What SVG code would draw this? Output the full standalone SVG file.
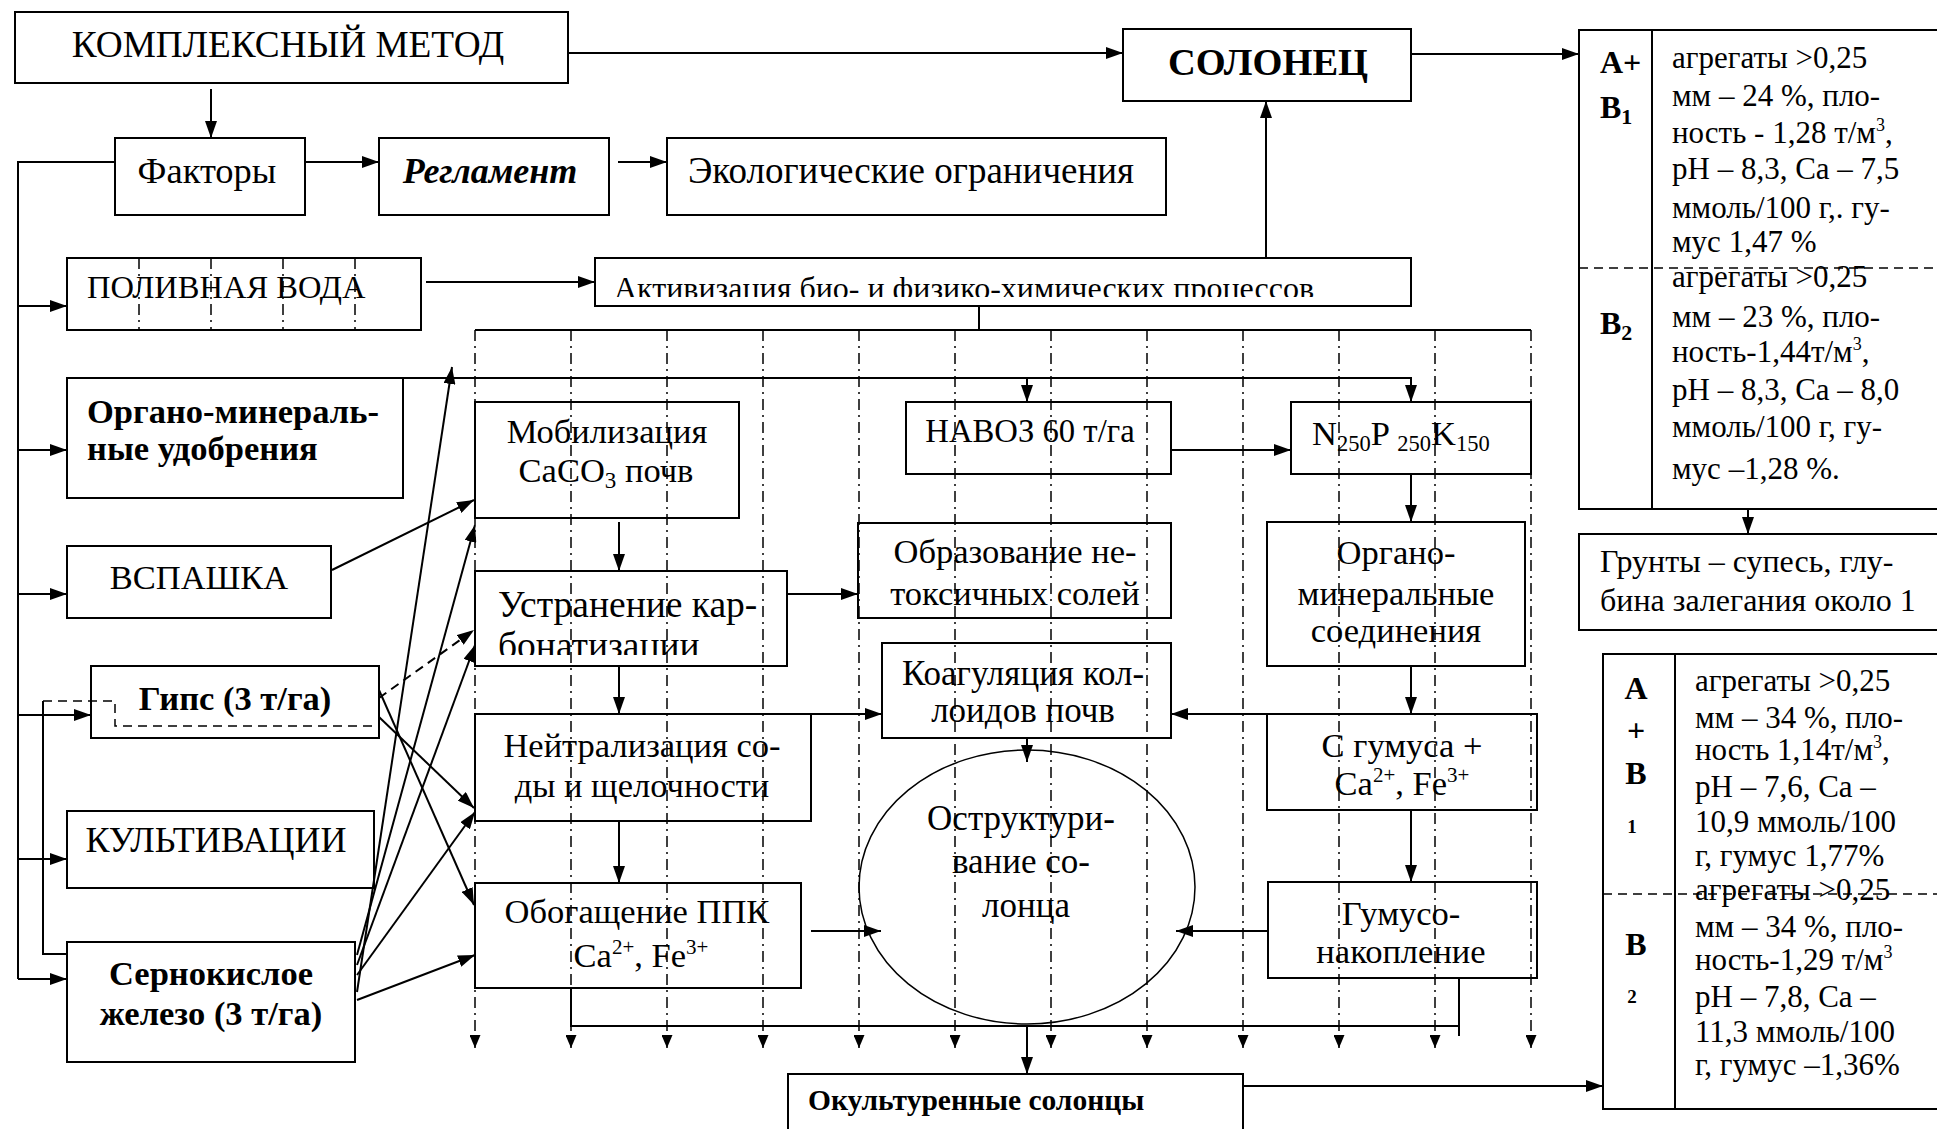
<svg xmlns="http://www.w3.org/2000/svg" width="1937" height="1129" viewBox="0 0 1937 1129">
<defs>
<style>
.b{fill:#fff;stroke:#000;stroke-width:2}
.l{fill:none;stroke:#000;stroke-width:2}
.la{fill:none;stroke:#000;stroke-width:2;marker-end:url(#a)}
.dla{fill:none;stroke:#000;stroke-width:2;stroke-dasharray:9 6;marker-end:url(#a)}
.dd{fill:none;stroke:#000;stroke-width:1.5;stroke-dasharray:11 5 2 5}
.dda{fill:none;stroke:#000;stroke-width:1.5;stroke-dasharray:11 5 2 5;marker-end:url(#s)}
.ds{fill:none;stroke:#000;stroke-width:1.5;stroke-dasharray:9 6}
text{font-family:"Liberation Serif","Times New Roman",serif;fill:#000;font-size:34.5px}
.m{text-anchor:middle}
.bd{font-weight:bold}
.big{font-size:37px}
.tb{font-size:31px}
.t32{font-size:32px}
.sm{font-size:19px}
</style>
<marker id="a" markerUnits="userSpaceOnUse" markerWidth="17" markerHeight="12" refX="17" refY="6" orient="auto"><path d="M0,0 L17,6 L0,12 z" fill="#000"/></marker>
<marker id="s" markerUnits="userSpaceOnUse" markerWidth="13" markerHeight="11" refX="13" refY="5.5" orient="auto"><path d="M0,0 L13,5.5 L0,11 z" fill="#000"/></marker>
<clipPath id="c1"><rect x="595" y="258" width="816" height="39"/></clipPath>
<clipPath id="c2"><rect x="475" y="571" width="312" height="84"/></clipPath>
</defs>
<rect width="1937" height="1129" fill="#fff"/>

<g id="n-kompl"><rect class="b" x="15" y="12" width="553" height="71"/><text class="m" x="288" y="57" style="font-size:37.3px">КОМПЛЕКСНЫЙ МЕТОД</text></g>
<g id="n-solonets"><rect class="b" x="1123" y="29" width="288" height="72"/><text class="m bd" x="1268" y="75" style="font-size:38.5px">СОЛОНЕЦ</text></g>
<g id="n-faktory"><rect class="b" x="115" y="138" width="190" height="77"/><text class="m" x="207" y="183" style="font-size:36.5px">Факторы</text></g>
<g id="n-reglament"><rect class="b" x="379" y="138" width="230" height="77"/><text class="m bd" x="490" y="183" style="font-size:36px;font-style:italic">Регламент</text></g>
<g id="n-ecolog"><rect class="b" x="667" y="138" width="499" height="77"/><text class="big m" x="911" y="183">Экологические ограничения</text></g>
<g id="n-poliv"><rect class="b" x="67" y="258" width="354" height="72"/><text x="87" y="298" style="font-size:32.5px">ПОЛИВНАЯ ВОДА</text></g>
<g id="n-aktiv"><rect class="b" x="595" y="258" width="816" height="48"/><text class="t32" x="614" y="299" clip-path="url(#c1)">Активизация био- и физико-химических процессов</text></g>
<g id="n-organo"><rect class="b" x="67" y="378" width="336" height="120"/><text class="bd" x="87" y="423">Органо-минераль-</text><text class="bd" x="87" y="460">ные удобрения</text></g>
<g id="n-vspashka"><rect class="b" x="67" y="546" width="264" height="72"/><text class="m" x="199" y="589">ВСПАШКА</text></g>
<g id="n-gips"><rect class="b" x="91" y="666" width="288" height="72"/><text class="m bd" x="235" y="710">Гипс (3 т/га)</text></g>
<g id="n-kultiv"><rect class="b" x="67" y="811" width="307" height="77"/><text class="m" x="216" y="852" style="font-size:36px">КУЛЬТИВАЦИИ</text></g>
<g id="n-sern"><rect class="b" x="67" y="942" width="288" height="120"/><text class="m bd" x="211" y="985">Сернокислое</text><text class="m bd" x="211" y="1025">железо (3 т/га)</text></g>

<g id="n-mobil"><rect class="b" x="475" y="402" width="264" height="116"/><text class="m" x="607" y="443">Мобилизация</text><text class="m" x="606" y="482">CaCO<tspan style="font-size:23px" dy="6">3</tspan><tspan dy="-6"> почв</tspan></text></g>
<g id="n-ustran"><rect class="b" x="475" y="571" width="312" height="95"/><text x="498" y="617" style="font-size:37.5px">Устранение кар-</text><text x="498" y="658" style="font-size:37.5px" clip-path="url(#c2)">бонатизации</text></g>
<g id="n-neitr"><rect class="b" x="475" y="714" width="336" height="107"/><text class="m" x="642" y="757">Нейтрализация со-</text><text class="m" x="642" y="797">ды и щелочности</text></g>
<g id="n-obog"><rect class="b" x="475" y="883" width="326" height="105"/><text class="m" x="637" y="923">Обогащение ППК</text><text class="m" x="641" y="967">Ca<tspan style="font-size:21px" dy="-13">2+</tspan><tspan dy="13">, Fe</tspan><tspan style="font-size:21px" dy="-13">3+</tspan></text></g>
<g id="n-navoz"><rect class="b" x="906" y="402" width="265" height="72"/><text class="m" x="1030" y="442" style="font-size:32.7px">НАВОЗ 60 т/га</text></g>
<g id="n-npk"><rect class="b" x="1291" y="402" width="240" height="72"/><text x="1312" y="445">N<tspan style="font-size:22.5px" dy="6">250</tspan><tspan dy="-6">P </tspan><tspan style="font-size:22.5px" dy="6">250</tspan><tspan dy="-6">K</tspan><tspan style="font-size:22.5px" dy="6">150</tspan></text></g>
<g id="n-obraz"><rect class="b" x="858" y="523" width="313" height="95"/><text class="m" x="1015" y="563">Образование не-</text><text class="m" x="1015" y="605">токсичных солей</text></g>
<g id="n-koag"><rect class="b" x="882" y="643" width="289" height="95"/><text class="m" x="1023" y="685" style="font-size:35px">Коагуляция кол-</text><text class="m" x="1023" y="722" style="font-size:35px">лоидов почв</text></g>
<g id="n-ostr"><ellipse cx="1027" cy="887" rx="168" ry="137" fill="#fff" stroke="#000" stroke-width="1.5"/><text class="m" x="1021" y="830" style="font-size:35px">Оструктури-</text><text class="m" x="1021" y="873" style="font-size:35px">вание со-</text><text class="m" x="1026" y="917" style="font-size:35px">лонца</text></g>
<g id="n-orgmin"><rect class="b" x="1267" y="522" width="258" height="144"/><text class="m" x="1396" y="564">Органо-</text><text class="m" x="1396" y="605">минеральные</text><text class="m" x="1396" y="642">соединения</text></g>
<g id="n-cgum"><rect class="b" x="1267" y="714" width="270" height="96"/><text class="m" x="1402" y="757">C гумуса +</text><text class="m" x="1402" y="795">Ca<tspan style="font-size:21px" dy="-13">2+</tspan><tspan dy="13">, Fe</tspan><tspan style="font-size:21px" dy="-13">3+</tspan></text></g>
<g id="n-gumus"><rect class="b" x="1268" y="882" width="269" height="96"/><text class="m" x="1401" y="925">Гумусо-</text><text class="m" x="1401" y="963">накопление</text></g>
<g id="n-okult"><rect class="b" x="788" y="1074" width="455" height="70"/><text class="bd" x="808" y="1110" style="font-size:29.5px">Окультуренные солонцы</text></g>

<g id="n-table1"><rect class="b" x="1579" y="30" width="380" height="479"/><line class="l" x1="1652" y1="30" x2="1652" y2="509"/><line class="ds" x1="1579" y1="268" x2="1937" y2="268"/>
<text class="bd t32" x="1600" y="73">A+</text><text class="bd t32" x="1600" y="118">B<tspan style="font-size:22px" dy="6">1</tspan></text><text class="bd t32" x="1600" y="334">B<tspan style="font-size:22px" dy="6">2</tspan></text>
<text class="tb" x="1672" y="68">агрегаты &gt;0,25</text>
<text class="tb" x="1672" y="106">мм – 24 %, пло-</text>
<text class="tb" x="1672" y="143">ность - 1,28 т/м<tspan style="font-size:18px" dy="-12">3</tspan><tspan dy="12">,</tspan></text>
<text class="tb" x="1672" y="179">pH – 8,3, Ca – 7,5</text>
<text class="tb" x="1672" y="218">ммоль/100 г,. гу-</text>
<text class="tb" x="1672" y="252">мус 1,47 %</text>
<text class="tb" x="1672" y="287">агрегаты &gt;0,25</text>
<text class="tb" x="1672" y="327">мм – 23 %, пло-</text>
<text class="tb" x="1672" y="362">ность-1,44т/м<tspan style="font-size:18px" dy="-12">3</tspan><tspan dy="12">,</tspan></text>
<text class="tb" x="1672" y="400">pH – 8,3, Ca – 8,0</text>
<text class="tb" x="1672" y="437">ммоль/100 г, гу-</text>
<text class="tb" x="1672" y="479">мус –1,28 %.</text>
</g>
<g id="n-grunty"><rect class="b" x="1579" y="534" width="380" height="96"/><text class="t32" x="1600" y="572">Грунты – супесь, глу-</text><text class="t32" x="1600" y="611">бина залегания около 1</text></g>
<g id="n-table2"><rect class="b" x="1603" y="654" width="360" height="455"/><line class="l" x1="1675" y1="654" x2="1675" y2="1109"/><line class="ds" x1="1603" y1="894" x2="1937" y2="894"/>
<text class="bd m t32" x="1636" y="699">A</text><text class="bd m t32" x="1636" y="741">+</text><text class="bd m t32" x="1636" y="784">B</text><text class="bd m sm" x="1632" y="833">1</text><text class="bd m t32" x="1636" y="955">B</text><text class="bd m sm" x="1632" y="1003">2</text>
<text class="tb" x="1695" y="691">агрегаты &gt;0,25</text>
<text class="tb" x="1695" y="728">мм – 34 %, пло-</text>
<text class="tb" x="1695" y="760">ность 1,14т/м<tspan style="font-size:18px" dy="-12">3</tspan><tspan dy="12">,</tspan></text>
<text class="tb" x="1695" y="797">pH – 7,6, Ca –</text>
<text class="tb" x="1695" y="832">10,9 ммоль/100</text>
<text class="tb" x="1695" y="866">г, гумус 1,77%</text>
<text class="tb" x="1695" y="900">агрегаты &gt;0,25</text>
<text class="tb" x="1695" y="937">мм – 34 %, пло-</text>
<text class="tb" x="1695" y="970">ность-1,29 т/м<tspan style="font-size:18px" dy="-12">3</tspan></text>
<text class="tb" x="1695" y="1007">pH – 7,8, Ca –</text>
<text class="tb" x="1695" y="1042">11,3 ммоль/100</text>
<text class="tb" x="1695" y="1075">г, гумус –1,36%</text>
</g>

<g id="connectors">
<line class="la" x1="211" y1="89" x2="211" y2="138"/>
<line class="la" x1="568" y1="53" x2="1123" y2="53"/>
<line class="la" x1="305" y1="162" x2="379" y2="162"/>
<line class="la" x1="618" y1="162" x2="667" y2="162"/>
<polyline class="l" points="115,162 18,162 18,979"/>
<line class="la" x1="18" y1="306" x2="67" y2="306"/>
<line class="la" x1="18" y1="450" x2="67" y2="450"/>
<line class="la" x1="18" y1="594" x2="67" y2="594"/>
<line class="la" x1="18" y1="715" x2="91" y2="715"/>
<line class="la" x1="18" y1="859" x2="67" y2="859"/>
<line class="la" x1="18" y1="979" x2="67" y2="979"/>
<line class="la" x1="426" y1="282" x2="595" y2="282"/>
<line class="la" x1="1266" y1="258" x2="1266" y2="101"/>
<line class="la" x1="1411" y1="54" x2="1579" y2="54"/>
<line class="l" x1="979" y1="306" x2="979" y2="330"/>
<line class="l" x1="475" y1="330" x2="1531" y2="330"/>
<line class="dd" x1="139" y1="258" x2="139" y2="330"/>
<line class="dd" x1="211" y1="258" x2="211" y2="330"/>
<line class="dd" x1="283" y1="258" x2="283" y2="330"/>
<line class="dd" x1="355" y1="258" x2="355" y2="330"/>
<line class="dda" x1="475" y1="330" x2="475" y2="1048"/>
<line class="dda" x1="571" y1="330" x2="571" y2="1048"/>
<line class="dda" x1="667" y1="330" x2="667" y2="1048"/>
<line class="dda" x1="763" y1="330" x2="763" y2="1048"/>
<line class="dda" x1="859" y1="330" x2="859" y2="1048"/>
<line class="dda" x1="955" y1="330" x2="955" y2="1048"/>
<line class="dda" x1="1051" y1="330" x2="1051" y2="1048"/>
<line class="dda" x1="1147" y1="330" x2="1147" y2="1048"/>
<line class="dda" x1="1243" y1="330" x2="1243" y2="1048"/>
<line class="dda" x1="1339" y1="330" x2="1339" y2="1048"/>
<line class="dda" x1="1435" y1="330" x2="1435" y2="1048"/>
<line class="dda" x1="1531" y1="330" x2="1531" y2="1048"/>
<polyline class="la" points="403,378 1411,378 1411,402"/>
<line class="la" x1="1027" y1="378" x2="1027" y2="402"/>
<line class="la" x1="1171" y1="450" x2="1291" y2="450"/>
<line class="la" x1="1411" y1="474" x2="1411" y2="522"/>
<line class="la" x1="1411" y1="666" x2="1411" y2="714"/>
<line class="la" x1="1411" y1="810" x2="1411" y2="882"/>
<line class="la" x1="1267" y1="714" x2="1171" y2="714"/>
<line class="la" x1="1268" y1="931" x2="1176" y2="931"/>
<line class="la" x1="1027" y1="738" x2="1027" y2="762"/>
<line class="la" x1="619" y1="522" x2="619" y2="571"/>
<line class="la" x1="787" y1="594" x2="858" y2="594"/>
<line class="la" x1="619" y1="666" x2="619" y2="714"/>
<line class="la" x1="811" y1="714" x2="882" y2="714"/>
<line class="la" x1="619" y1="821" x2="619" y2="883"/>
<line class="la" x1="811" y1="931" x2="881" y2="931"/>
<polyline class="l" points="571,988 571,1026 1459,1026"/>
<line class="l" x1="1459" y1="978" x2="1459" y2="1036"/>
<line class="la" x1="1027" y1="1026" x2="1027" y2="1074"/>
<line class="la" x1="1243" y1="1086" x2="1603" y2="1086"/>
<line class="la" x1="1748" y1="509" x2="1748" y2="534"/>
<line class="la" x1="332" y1="570" x2="474" y2="500"/>
<line class="dla" x1="379" y1="698" x2="474" y2="630"/>
<line class="la" x1="379" y1="717" x2="474" y2="808"/>
<line class="la" x1="379" y1="690" x2="474" y2="905"/>
<line class="la" x1="357" y1="992" x2="452" y2="367"/>
<line class="la" x1="357" y1="955" x2="475" y2="525"/>
<line class="la" x1="357" y1="965" x2="475" y2="645"/>
<line class="la" x1="357" y1="975" x2="475" y2="812"/>
<line class="la" x1="357" y1="1000" x2="475" y2="955"/>
<polyline class="ds" points="43,701 115,701 115,726 375,726"/>
<polyline class="l" points="43,701 43,954 67,954"/>
</g>
</svg>
